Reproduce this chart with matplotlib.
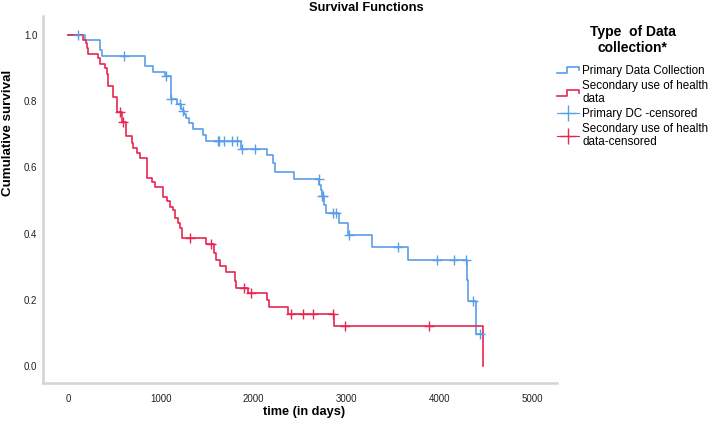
import matplotlib
matplotlib.use("Agg")
import matplotlib.pyplot as plt
from matplotlib.lines import Line2D
from matplotlib.legend_handler import HandlerBase

plt.rcParams['font.family'] = ['Liberation Sans', 'DejaVu Sans']

# Kaplan-Meier steps (time in days, survival after the step)
primary_t = [0, 185, 345, 370, 830, 920, 1045, 1105, 1171, 1218, 1235, 1254, 1272, 1307,
             1351, 1451, 1487, 1861, 2140, 2212, 2230, 2430, 2708, 2723, 2735, 2760, 2780,
             2924, 3020, 3272, 3660, 4296, 4314, 4393, 4458]
primary_s = [1.0, 0.985, 0.955, 0.938, 0.907, 0.89, 0.876, 0.806, 0.793, 0.778, 0.771, 0.763,
             0.751, 0.735, 0.715, 0.698, 0.68, 0.657, 0.637, 0.612, 0.587, 0.564, 0.547, 0.532,
             0.514, 0.486, 0.461, 0.431, 0.396, 0.36, 0.32, 0.26, 0.197, 0.096, 0.096]
primary_cens_t = [105, 603, 1056, 1110, 1207, 1243, 1620, 1631, 1681, 1764, 1824, 1872, 2015,
                  2700, 2740, 2746, 2860, 2888, 3025, 3552, 3973, 4160, 4290, 4360, 4440]
primary_cens_s = [1.0, 0.938, 0.876, 0.806, 0.793, 0.771, 0.68, 0.68, 0.68, 0.68, 0.68, 0.657,
                  0.657, 0.564, 0.514, 0.514, 0.461, 0.461, 0.396, 0.36, 0.32, 0.32, 0.32, 0.197,
                  0.096]

secondary_t = [0, 165, 190, 200, 220, 327, 340, 399, 417, 434, 488, 524, 531, 578, 621, 686,
               704, 740, 776, 855, 901, 937, 1027, 1063, 1099, 1128, 1153, 1189, 1207, 1225,
               1490, 1570, 1590, 1640, 1700, 1800, 1810, 1943, 2148, 2162, 2370, 2862, 4476,
               4476]
secondary_s = [1.0, 0.985, 0.975, 0.96, 0.944, 0.93, 0.914, 0.9, 0.884, 0.845, 0.814, 0.793,
               0.768, 0.738, 0.694, 0.675, 0.66, 0.644, 0.63, 0.567, 0.557, 0.54, 0.51, 0.497,
               0.481, 0.471, 0.446, 0.431, 0.416, 0.386, 0.369, 0.34, 0.32, 0.303, 0.285, 0.255,
               0.235, 0.22, 0.2, 0.177, 0.158, 0.12, 0.0, 0.0]
secondary_cens_t = [565, 590, 1310, 1537, 1895, 1975, 2400, 2527, 2643, 2852, 2980, 3890]
secondary_cens_s = [0.768, 0.738, 0.386, 0.369, 0.235, 0.22, 0.158, 0.158, 0.158, 0.158,
                    0.12, 0.12]

blue = '#5b9ee8'
red = '#e8264f'

fig = plt.figure(figsize=(7.08, 4.22), dpi=100)
ax = fig.add_axes([43 / 708, 1 - 383 / 422, (557 - 43) / 708, (383 - 16) / 422])

ax.step(primary_t, primary_s, where='post', color=blue, lw=1.2)
ax.step(secondary_t, secondary_s, where='post', color=red, lw=1.2)
ax.plot(primary_cens_t, primary_cens_s, '+', color=blue, ms=6.5, mew=1.0)
ax.plot(secondary_cens_t, secondary_cens_s, '+', color=red, ms=6.5, mew=1.0)

ax.set_xlim(-270, 5270)
ax.set_ylim(-0.052, 1.058)
ax.set_xticks([0, 1000, 2000, 3000, 4000, 5000])
ax.set_yticks([0.0, 0.2, 0.4, 0.6, 0.8, 1.0])
ax.set_yticklabels(['0.0', '0.2', '0.4', '0.6', '0.8', '1.0'])
ax.tick_params(length=0, labelsize=7, colors='#222222')
ax.tick_params(axis='x', pad=8)
ax.tick_params(axis='y', pad=4)
for side in ['top', 'right']:
    ax.spines[side].set_visible(False)
for side in ['left', 'bottom']:
    ax.spines[side].set_color('#d4d4d4')
    ax.spines[side].set_linewidth(1.8)

fig.text(366 / 708, 1 - 8 / 422, 'Survival Functions', ha='center', va='center',
         fontsize=9.3, fontweight='bold')
fig.text(304 / 708, 1 - 412 / 422, 'time (in days)', ha='center', va='center',
         fontsize=9.2, fontweight='bold')
fig.text(8 / 708, 1 - 133 / 422, 'Cumulative survival', ha='center', va='center',
         rotation=90, fontsize=9.6, fontweight='bold')


# legend icon for the survival lines: a small step
class StepHandler(HandlerBase):
    def create_artists(self, legend, orig_handle, xdescent, ydescent, width, height,
                       fontsize, trans):
        x0, y0 = -xdescent, -ydescent
        xs = [x0, x0 + width * 0.45, x0 + width * 0.45, x0 + width, x0 + width]
        ys = [y0 + height * 0.15, y0 + height * 0.15, y0 + height * 0.85,
              y0 + height * 0.85, y0 + height * 0.45]
        ln = Line2D(xs, ys, color=orig_handle.get_color(), lw=orig_handle.get_linewidth())
        ln.set_transform(trans)
        return [ln]


h1 = Line2D([], [], color=blue, lw=1.2)
h2 = Line2D([], [], color=red, lw=1.2)
h3 = Line2D([], [], color=blue, marker='+', ls='-', lw=0.8, ms=11, mew=1.0)
h4 = Line2D([], [], color=red, marker='+', ls='-', lw=0.8, ms=11, mew=1.0)
labels = ['Primary Data Collection', 'Secondary use of health\ndata',
          'Primary DC -censored', 'Secondary use of health\ndata-censored']
leg = fig.legend([h1, h2, h3, h4], labels, loc='upper left',
                 bbox_to_anchor=(549 / 708, 1 - 17 / 422), frameon=False,
                 fontsize=8.4, handlelength=1.9, handletextpad=0.25, labelspacing=0.22,
                 borderaxespad=0.3,
                 title='Type  of Data\ncollection*',
                 title_fontproperties={'weight': 'bold', 'size': 10},
                 handler_map={h1: StepHandler(), h2: StepHandler()})
leg.get_title().set_multialignment('center')
leg._legend_box.sep = 7

fig.savefig('out.png', dpi=100)
